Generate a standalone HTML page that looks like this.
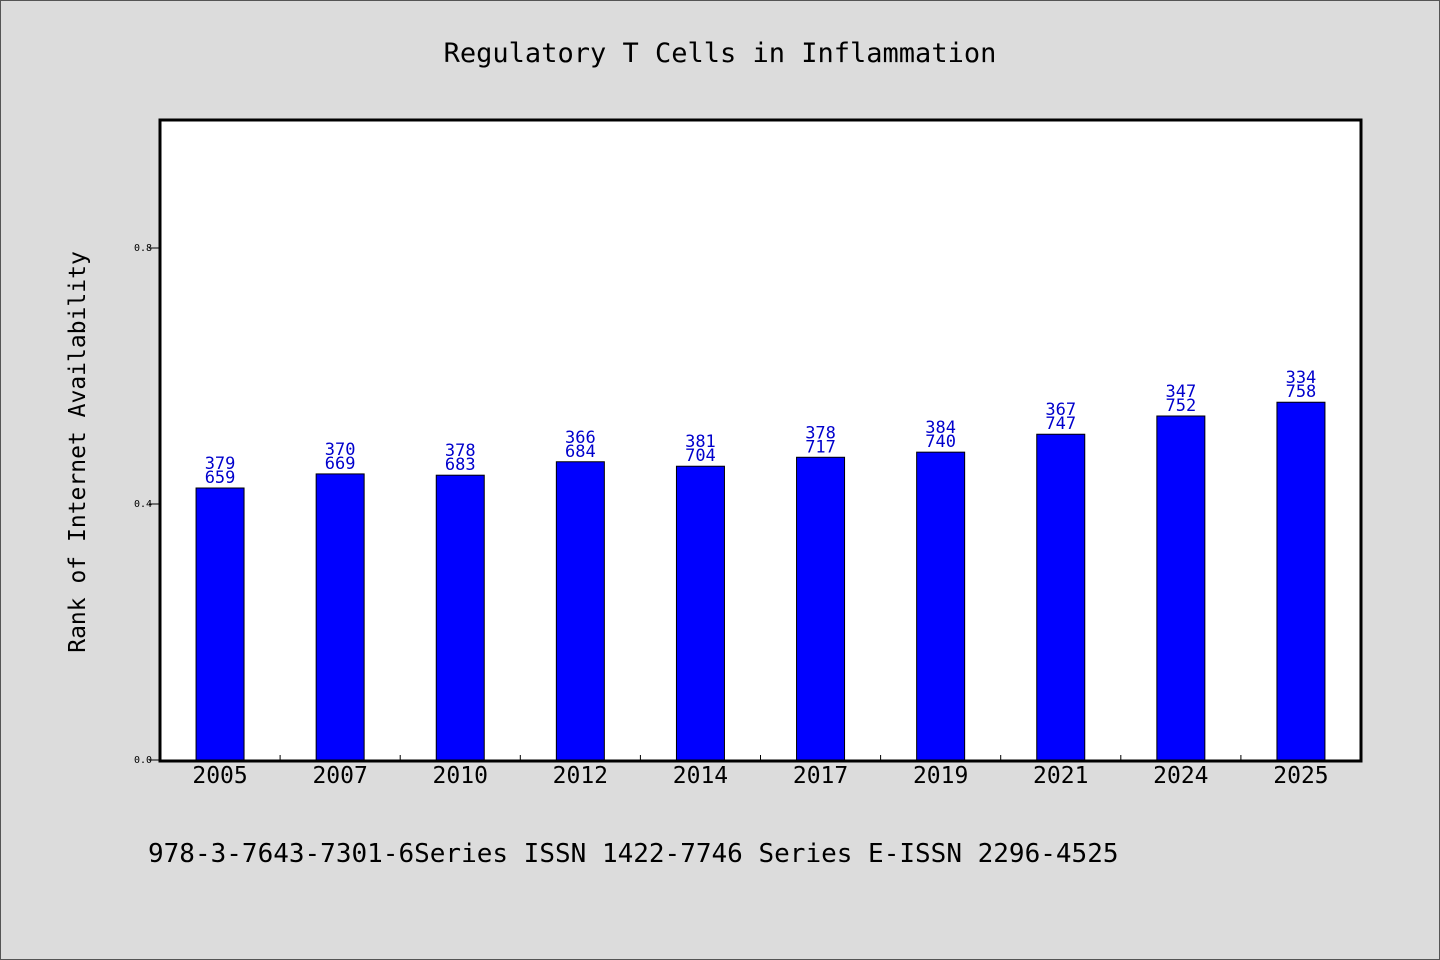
<!DOCTYPE html>
<html><head><meta charset="utf-8"><style>
html,body{margin:0;padding:0;background:#dcdcdc;overflow:hidden;}
svg{display:block;}
svg text{font-family:"WenQuanYi Zen Hei Mono","WenQuanYi Zen Hei","DejaVu Sans Mono","Liberation Mono",monospace;}
</style></head><body>
<svg width="1440" height="960" xmlns="http://www.w3.org/2000/svg">
<rect x="0.5" y="0.5" width="1439" height="959" fill="#dcdcdc" stroke="#555"/>
<text x="720" y="62" text-anchor="middle" font-size="27" fill="#000">Regulatory T Cells in Inflammation</text>
<rect x="160" y="120" width="1201" height="641" fill="#fff"/>
<g id="bars"></g>
<rect x="160" y="120" width="1201" height="641" fill="none" stroke="#000" stroke-width="3"/>
<g id="axes"></g>
<text transform="translate(85,452) rotate(-90)" text-anchor="middle" font-size="23" fill="#000">Rank of Internet Availability</text>
<text x="148" y="862" font-size="26" fill="#000">978-3-7643-7301-6Series ISSN 1422-7746 Series E-ISSN 2296-4525</text>
</svg>
<script>
const categories=["2005","2007","2010","2012","2014","2017","2019","2021","2024","2025"];
const values=[0.425,0.447,0.445,0.466,0.459,0.473,0.481,0.509,0.5375,0.559];
const labelTop=["379","370","378","366","381","378","384","367","347","334"];
const labelBottom=["659","669","683","684","704","717","740","747","752","758"];
const yTicks=[0,0.4,0.8];
const yTickLabels=["0.0","0.4","0.8"];
const NS="http://www.w3.org/2000/svg";
const x0=160,x1=1361,yTop=120,yBot=760;
const band=(x1-x0)/categories.length;
const y=v=>yBot-(yBot-yTop)*v/1.0;
const xc=i=>x0+band*(i+0.5);
function mk(tag,attrs,parent){const e=document.createElementNS(NS,tag);for(const k in attrs)e.setAttribute(k,attrs[k]);parent.appendChild(e);return e;}
const gb=document.getElementById('bars'),ga=document.getElementById('axes');
categories.forEach((c,i)=>{
 const r=mk('rect',{x:xc(i)-24,y:y(values[i]),width:48,height:yBot-y(values[i]),fill:'#0000ff',stroke:'#000','stroke-width':1},gb);
 
 
 const t1=mk('text',{x:xc(i),y:y(values[i])-19,'text-anchor':'middle','font-size':17,fill:'#0000cc'},gb);
 t1.textContent=labelTop[i];
 
 
 const t2=mk('text',{x:xc(i),y:y(values[i])-5,'text-anchor':'middle','font-size':17,fill:'#0000cc'},gb);
 t2.textContent=labelBottom[i];
 
 
 const xt=mk('text',{x:xc(i),y:783,'text-anchor':'middle','font-size':23,fill:'#000'},ga);
 xt.textContent=c;
 
 
 if(i>0){const l=mk('line',{x1:x0+band*i,x2:x0+band*i,y1:760,y2:755,stroke:'#000','stroke-width':1},ga);
 
 }
});
yTicks.forEach((v,i)=>{
 const l=mk('line',{x1:149,x2:159,y1:y(v),y2:y(v),stroke:'#000','stroke-width':1},ga);
 
 
 const t=mk('text',{x:152,y:y(v)+3,'text-anchor':'end','font-size':10,fill:'#000'},ga);
 t.textContent=yTickLabels[i];
 
 
});
</script>
</body></html>
